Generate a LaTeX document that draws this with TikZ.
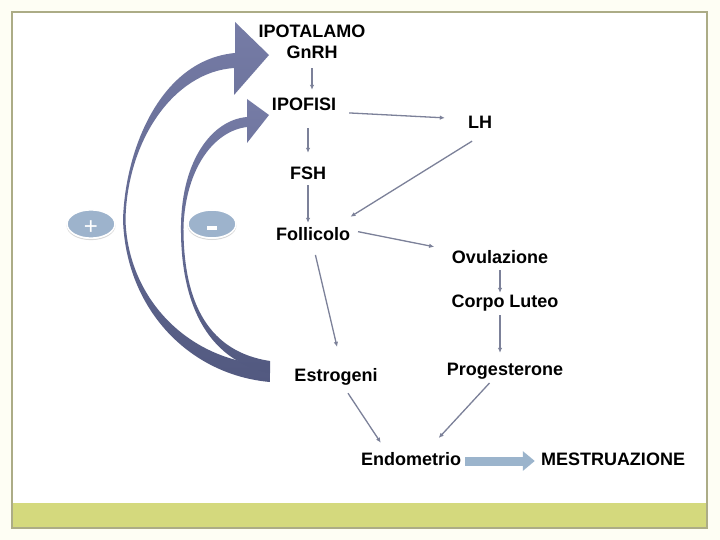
\documentclass[tikz,border=0pt]{standalone}
\usepackage{fontspec}
\setmainfont{Liberation Sans}
\usetikzlibrary{arrows.meta,shapes.geometric}
\definecolor{linkgray}{RGB}{124,129,153}
\definecolor{loopdark}{RGB}{82,89,128}
\definecolor{looplight}{RGB}{118,124,166}
\definecolor{signblue}{RGB}{157,179,204}
\definecolor{barblue}{RGB}{155,180,204}
\definecolor{framegray}{RGB}{172,172,134}
\definecolor{bargreen}{RGB}{212,217,125}
\definecolor{pagecream}{RGB}{254,254,244}
\tikzset{
  lbl/.style={font=\bfseries\fontsize{18}{20}\selectfont, inner sep=0pt, text height=13pt, text depth=4pt},
  link/.style={draw=linkgray, line width=1.3pt, -{Latex[length=5pt,width=4.5pt]}},
  sign/.style={ellipse, fill=signblue, draw=white, line width=1.5pt, minimum width=48pt, minimum height=28pt, inner sep=0pt, text=white,
    preaction={draw=black!15, line width=1pt, transform canvas={yshift=-1.5pt}}},
  loop/.style={top color=looplight, bottom color=loopdark},
}
\begin{document}
\begin{tikzpicture}[x=1pt,y=-1pt]
    \useasboundingbox (0,0) rectangle (720,540);
    % Slide frame and footer bar
    \fill[pagecream] (0,0) rectangle (720,540);
    \fill[white] (12,12) rectangle (707,528);
    \fill[bargreen] (12,503) rectangle (707,528);
    \draw[framegray, line width=1.2pt] (12,12) rectangle (707,528);

    % Feedback arrows: outer one to the hypothalamus, inner one to the pituitary
    \shade[loop]
      (270,382) .. controls (190,375) and (126,310) .. (123,220)
      .. controls (125,150) and (160,60) .. (235,53)
      -- (235,22) -- (269,55) -- (234,95) -- (234,68)
      .. controls (174,72) and (127,140) .. (125.5,220)
      .. controls (128,300) and (190,362) .. (270,365) -- cycle;
    \shade[loop]
      (270,373) .. controls (205,360) and (180,300) .. (181,225)
      .. controls (182,160) and (212,120) .. (247,117)
      -- (247,99) -- (269,115) -- (247,143) -- (247,127)
      .. controls (214,131) and (186,168) .. (183.5,226)
      .. controls (183,305) and (210,352) .. (270,361) -- cycle;

    % Signs of the feedback
    \node[sign, font=\fontsize{24}{24}\selectfont, text height=20pt, text depth=0pt] (plus) at (91,224) {+};
    \node[sign, text height=12pt, text depth=0pt] (minus) at (212,224) {\rule{10pt}{4pt}};

    % Hormones and organs
    \node[lbl] (ipotalamo) at (312,33) {IPOTALAMO};
    \node[lbl] (gnrh) at (312,54) {GnRH};
    \node[lbl] (ipofisi) at (304,106) {IPOFISI};
    \node[lbl] (lh) at (480,124) {LH};
    \node[lbl] (fsh) at (308,175) {FSH};
    \node[lbl] (follicolo) at (313,236) {Follicolo};
    \node[lbl] (ovulazione) at (500,259) {Ovulazione};
    \node[lbl] (corpo) at (505,303) {Corpo Luteo};
    \node[lbl] (estrogeni) at (336,377) {Estrogeni};
    \node[lbl] (progesterone) at (505,371) {Progesterone};
    \node[lbl] (endometrio) at (411,461) {Endometrio};
    \node[lbl] (mestruazione) at (613,461) {MESTRUAZIONE};

    % Links
    \draw[link, shorten <=5.5pt, shorten >=7.5pt] (gnrh.south) -- (gnrh.south |- ipofisi.north);
    \draw[link, shorten <=13.5pt, shorten >=13.5pt] (fsh.north |- ipofisi.south) -- (fsh.north);
    \draw[link, shorten <=1.5pt, shorten >=4.5pt] (fsh.south) -- (fsh.south |- follicolo.north);
    \draw[link, shorten <=13pt, shorten >=23pt] (ipofisi.-11) -- (lh.158);
    \draw[link, shorten <=16pt, shorten >=20pt] (lh.-57) -- (follicolo.23);
    \draw[link, shorten <=8pt, shorten >=18pt] (follicolo.9) -- (ovulazione.north west);
    \draw[link, shorten <=2.5pt, shorten >=1.5pt] (ovulazione.south) -- (ovulazione.south |- corpo.north);
    \draw[link, shorten <=3.5pt, shorten >=9.5pt] (ovulazione.south |- corpo.south) -- (ovulazione.south |- progesterone.north);
    \draw[link, shorten <=10.5pt, shorten >=22pt] (follicolo.south) -- (estrogeni.55);
    \draw[link, shorten <=9pt, shorten >=11.5pt] (estrogeni.-51) -- (endometrio.160);
    \draw[link, shorten <=4.5pt, shorten >=19.5pt] (progesterone.215) -- (endometrio.31);
    \draw[barblue, line width=9pt, -{Triangle[length=12pt,width=19pt]}, shorten <=4pt, shorten >=6pt] (endometrio.east) -- (mestruazione.west);
\end{tikzpicture}
\end{document}
